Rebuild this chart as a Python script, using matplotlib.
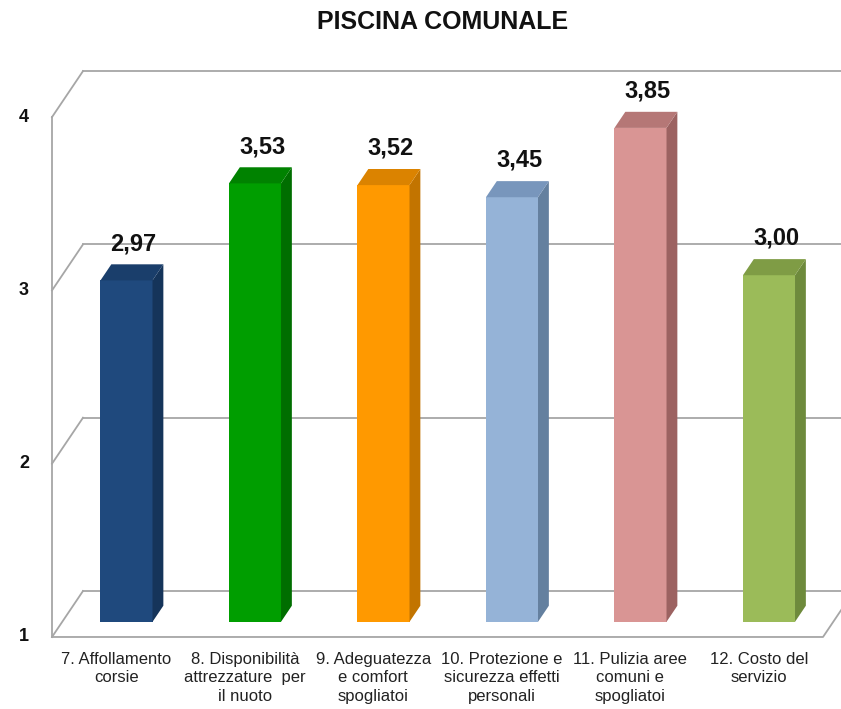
import matplotlib
matplotlib.use("Agg")
import matplotlib.pyplot as plt
from matplotlib.patches import Polygon

plt.rcParams['font.family'] = ['Liberation Sans', 'DejaVu Sans']

# data
categories = [
    "7. Affollamento\ncorsie",
    "8. Disponibilità\nattrezzature  per\nil nuoto",
    "9. Adeguatezza\ne comfort\nspogliatoi",
    "10. Protezione e\nsicurezza effetti\npersonali",
    "11. Pulizia aree\ncomuni e\nspogliatoi",
    "12. Costo del\nservizio",
]
values = [2.97, 3.53, 3.52, 3.45, 3.85, 3.00]
yticks = [1, 2, 3, 4]
front_colors = ["#1F497D", "#009E00", "#FF9900", "#95B3D7", "#D99594", "#9BBB59"]
top_colors = ["#1A3E6B", "#008200", "#DB8300", "#7896BC", "#B57776", "#7F9C45"]
side_colors = ["#15345A", "#006E00", "#C27400", "#64809F", "#9C6261", "#6E8A3C"]

# fake 3d projection (depth offset of the whole floor, in data units)
DX = 31 / 128.5
DY = 46 / 173.3
bar_w = 0.405
d0, d1 = 0.33, 0.68   # bar depth range as fraction of floor depth
grid_col = "#A6A6A6"

fig = plt.figure(figsize=(8.41, 7.09), dpi=100)
ax = fig.add_axes([0, 0, 1, 1])
ax.set_xlim(-0.4047, 6.140)
ax.set_ylim(0.5845, 4.6757)
ax.axis("off")

n = len(values)
lo, hi = yticks[0], yticks[-1]

# left wall + back wall grid
ax.plot([0, 0], [lo, hi], color=grid_col, lw=1.3, zorder=1)
for t in yticks:
    ax.plot([0, DX], [t, t + DY], color=grid_col, lw=1.3, zorder=1)
    ax.plot([DX, n + DX], [t + DY, t + DY], color=grid_col, lw=1.3, zorder=1)
    ax.text(-0.218, t, str(t), ha="center", va="center", fontsize=13,
            fontweight="bold", color="#111111")
# floor front edge
ax.plot([0, n, n + DX], [lo, lo, lo + DY], color=grid_col, lw=1.3, zorder=1)

# bars
for i, v in enumerate(values):
    x0 = i + 0.5 - bar_w / 2 + d0 * DX
    x1 = x0 + bar_w
    yb = lo + d0 * DY
    yt = v + d0 * DY
    ddx = (d1 - d0) * DX
    ddy = (d1 - d0) * DY
    front = Polygon([(x0, yb), (x1, yb), (x1, yt), (x0, yt)],
                    closed=True, fc=front_colors[i], ec="none", zorder=3)
    side = Polygon([(x1, yb), (x1 + ddx, yb + ddy), (x1 + ddx, yt + ddy), (x1, yt)],
                   closed=True, fc=side_colors[i], ec="none", zorder=3)
    top = Polygon([(x0, yt), (x1, yt), (x1 + ddx, yt + ddy), (x0 + ddx, yt + ddy)],
                  closed=True, fc=top_colors[i], ec="none", zorder=3)
    for p in (front, side, top):
        ax.add_patch(p)
    ax.text(i + 0.635, v + 0.30, f"{v:.2f}".replace(".", ","),
            ha="center", va="center", fontsize=17, fontweight="bold",
            color="#111111", zorder=4)
    ax.text(i + 0.5, lo - 0.085, categories[i], ha="center", va="top",
            fontsize=12, linespacing=1.3, color="#222222")

fig.text(443 / 841, 1 - 22 / 709, "PISCINA COMUNALE", ha="center", va="center",
         fontsize=18, fontweight="bold", color="#111111")

fig.savefig("out.png", dpi=100)
